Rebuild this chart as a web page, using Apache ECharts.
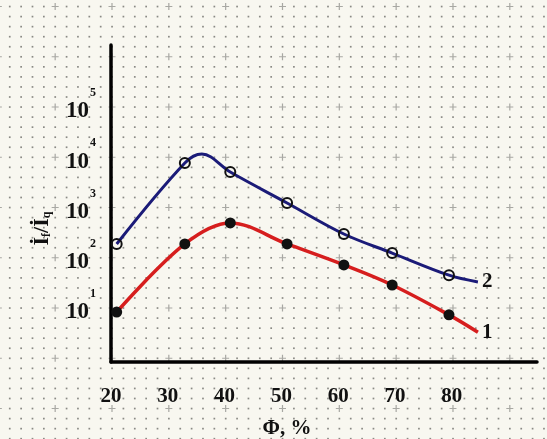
<!DOCTYPE html>
<html>
<head>
<meta charset="utf-8">
<script src="https://cdn.jsdelivr.net/npm/echarts@6/dist/echarts.min.js"></script>
<style>
  html, body { margin: 0; padding: 0; }
  #chart { width: 547px; height: 439px; }
</style>
</head>
<body>
<div id="chart"></div>
<script>
// measured points (markers), x = Φ in %
const xMarks = [21, 33, 41, 51, 61, 69.5, 79.5]
const curve2Marks = [188, 7690, 5080, 1230, 297, 124, 45]
const curve1Marks = [8.3, 188, 492, 188, 72, 28.7, 7.3]
// extra knots (peak, line ends) - no marker there
const curve2Knots = [[36, 11600], [84.6, 33]]
const curve1Knots = [[84.6, 3.3]]
// tick labels
const xTickLabels = [20, 30, 40, 50, 60, 70, 80]
const yTickExponents = [1, 2, 3, 4, 5]

const serif = 'Liberation Serif'

// graph paper behind the chart
function paper(w, h) {
  const c = document.createElement('canvas')
  c.width = w
  c.height = h
  const g = c.getContext('2d')
  g.fillStyle = '#f8f7f0'
  g.fillRect(0, 0, w, h)
  const x0 = 112, y0 = 107
  const dx = 56.83 / 5, dy = 50.25 / 5
  for (let i = Math.floor(-x0 / dx); x0 + i * dx < w; i++) {
    for (let j = Math.floor(-y0 / dy); y0 + j * dy < h; j++) {
      const x = x0 + i * dx, y = y0 + j * dy
      if (i % 5 === 0 && j % 5 === 0) {
        g.strokeStyle = '#a8a8a3'
        g.lineWidth = 1.2
        g.beginPath()
        g.moveTo(x - 3.5, y); g.lineTo(x + 3.5, y)
        g.moveTo(x, y - 3.5); g.lineTo(x, y + 3.5)
        g.stroke()
      } else {
        g.fillStyle = '#8a8a85'
        g.fillRect(x - 0.8, y - 0.8, 1.7, 1.7)
      }
    }
  }
  return c.toDataURL()
}
document.body.style.background = 'url(' + paper(547, 439) + ') no-repeat'

function buildData(marks, knots) {
  const pts = xMarks.map((x, i) => ({ value: [x, marks[i]] }))
  knots.forEach(k => pts.push({ value: k, symbol: 'none' }))
  pts.sort((a, b) => a.value[0] - b.value[0])
  return pts
}

const chart = echarts.init(document.getElementById('chart'))
chart.setOption({
  animation: false,
  backgroundColor: 'transparent',
  grid: { left: 111, right: 10, top: 45, bottom: 77, outerBoundsMode: 'none', containLabel: false },
  xAxis: {
    type: 'value',
    min: 20,
    max: 95,
    interval: 10,
    splitLine: { show: false },
    axisTick: { show: false },
    axisLine: { lineStyle: { color: '#000', width: 3.5 } },
    axisLabel: {
      margin: 24,
      fontFamily: serif,
      fontWeight: 'bold',
      fontSize: 21,
      color: '#111',
      formatter: v => (xTickLabels.indexOf(v) >= 0 ? String(v) : '')
    },
    name: 'Φ, %',
    nameLocation: 'middle',
    nameGap: 56,
    nameTextStyle: {
      fontFamily: serif,
      fontWeight: 'bold',
      fontSize: 21,
      color: '#111',
      padding: [0, 74, 0, 0]
    }
  },
  yAxis: {
    type: 'log',
    logBase: 10,
    min: 0.842,
    max: 1.714e6,
    splitLine: { show: false },
    axisTick: { show: false },
    axisLine: { show: true, lineStyle: { color: '#000', width: 3.5 } },
    axisLabel: {
      margin: 15,
      padding: [0, 0, 4, 0],
      formatter: v => {
        const e = Math.round(Math.log10(v))
        return yTickExponents.indexOf(e) >= 0 ? '{b|10}{s|' + e + '}' : ''
      },
      rich: {
        b: {
          fontFamily: serif, fontWeight: 'bold', fontSize: 23, color: '#111',
          lineHeight: 36, verticalAlign: 'bottom', padding: [0, 1, 0, 0]
        },
        s: {
          fontFamily: serif, fontWeight: 'bold', fontSize: 12, color: '#111',
          lineHeight: 13, verticalAlign: 'top'
        }
      }
    },
    name: '{i|İ}{u|f}{i|/İ}{u|q}',
    nameLocation: 'middle',
    nameRotate: 90,
    nameGap: 58,
    nameTextStyle: {
      padding: [0, 50, 0, 0],
      rich: {
        i: { fontFamily: serif, fontWeight: 'bold', fontSize: 22, color: '#111', verticalAlign: 'bottom', lineHeight: 24 },
        u: { fontFamily: serif, fontWeight: 'bold', fontSize: 12, color: '#111', verticalAlign: 'bottom', lineHeight: 16 }
      }
    }
  },
  series: [
    {
      name: '2',
      type: 'line',
      smooth: 0.35,
      data: buildData(curve2Marks, curve2Knots),
      symbol: 'circle',
      symbolSize: 10,
      lineStyle: { color: '#1b1b78', width: 3 },
      itemStyle: { color: 'rgba(0,0,0,0)', borderColor: '#111', borderWidth: 2 },
      endLabel: {
        show: true,
        formatter: '2',
        distance: 4,
        fontFamily: serif, fontWeight: 'bold', fontSize: 21, color: '#111'
      }
    },
    {
      name: '1',
      type: 'line',
      smooth: 0.35,
      data: buildData(curve1Marks, curve1Knots),
      symbol: 'circle',
      symbolSize: 11,
      lineStyle: { color: '#d61e1e', width: 3.5 },
      itemStyle: { color: '#111', borderColor: '#111', borderWidth: 0 },
      endLabel: {
        show: true,
        formatter: '1',
        distance: 4,
        fontFamily: serif, fontWeight: 'bold', fontSize: 21, color: '#111'
      }
    }
  ]
})
</script>
</body>
</html>
